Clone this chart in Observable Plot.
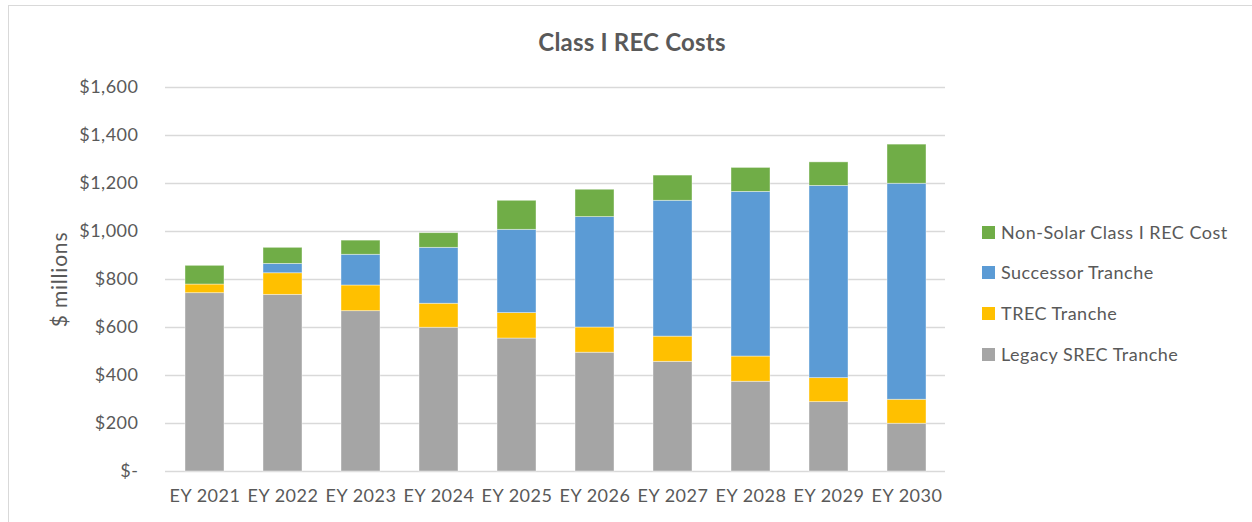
<!DOCTYPE html>
<html>
<head>
<meta charset="utf-8">
<script src="https://cdn.jsdelivr.net/npm/d3@7"></script>
<script src="https://cdn.jsdelivr.net/npm/@observablehq/plot@0.6"></script>
<style>
  html, body { margin: 0; padding: 0; background: #fff; }
  #wrap { position: relative; width: 1252px; height: 522px; overflow: hidden; font-family: Lato, "Open Sans", sans-serif; color: #595959; }
  #frame { position: absolute; left: 7.5px; top: 4.5px; right: 0; bottom: -4px; border-top: 1.5px solid #d9d9d9; border-left: 1.5px solid #d9d9d9; }
  #title { position: absolute; top: 27px; left: 632px; transform: translateX(-50%); font-size: 24px; font-weight: bold; white-space: nowrap; line-height: 30px; letter-spacing: 0.2px; }
  #legend { position: absolute; left: 982px; top: 0; }
  .item { position: absolute; left: 0; white-space: nowrap; font-size: 18px; line-height: 22px; letter-spacing: 0.5px; display: flex; align-items: center; }
  .sw { width: 13px; height: 13px; margin-right: 6px; display: inline-block; }
  #chart { position: absolute; left: 0; top: 0; }
  #chart svg text { letter-spacing: 0.5px; }
  #chart g[aria-label="y-axis label"] text { font-size: 21px; letter-spacing: 0.8px; }
</style>
</head>
<body>
<div id="wrap">
  <div id="frame"></div>
  <div id="chart"></div>
  <div id="title">Class I REC Costs</div>
  <div id="legend"></div>
</div>
<script>
const years = ["EY 2021","EY 2022","EY 2023","EY 2024","EY 2025","EY 2026","EY 2027","EY 2028","EY 2029","EY 2030"];
const legacySREC = [743, 736, 668, 599, 554, 495, 457, 374, 289, 199];
const trecTranche = [36, 90, 107, 100, 106, 105, 105, 105, 100, 100];
const successorTranche = [0, 39, 128, 233, 347, 460, 566, 686, 801, 900];
const nonSolarClassI = [78, 67, 59, 61, 121, 114, 105, 100, 98, 163];
const seriesNames = ["Legacy SREC Tranche", "TREC Tranche", "Successor Tranche", "Non-Solar Class I REC Cost"];
const seriesColors = ["#A5A5A5", "#FFC000", "#5B9BD5", "#70AD47"];
const yTicks = [0, 200, 400, 600, 800, 1000, 1200, 1400, 1600];

const seriesValues = [legacySREC, trecTranche, successorTranche, nonSolarClassI];
const rows = [];
seriesNames.forEach((s, si) => years.forEach((y, i) => rows.push({year: y, series: s, value: seriesValues[si][i]})));

const fmt = d => d === 0 ? "$-" : "$" + d3.format(",")(d);

const plot = Plot.plot({
  width: 1252,
  height: 522,
  marginLeft: 165,
  marginRight: 307,
  marginTop: 87,
  marginBottom: 51,
  style: {fontFamily: "Lato, 'Open Sans', sans-serif", fontSize: "18px", color: "#595959", background: "transparent"},
  x: {domain: years, paddingInner: 0.5, paddingOuter: 0.25},
  y: {domain: [0, 1600]},
  color: {domain: seriesNames, range: seriesColors},
  marks: [
    Plot.gridY(yTicks, {stroke: "#d9d9d9", strokeOpacity: 1, strokeWidth: 1.5}),
    Plot.barY(rows, {x: "year", y: "value", fill: "series", order: seriesNames, stroke: "#fff", strokeOpacity: 0.5, strokeWidth: 0.8}),
    Plot.axisY(yTicks, {tickSize: 0, tickPadding: 27, tickFormat: fmt, label: "$ millions", labelAnchor: "center", labelArrow: "none", labelOffset: 113, fontSize: 18}),
    Plot.axisX({tickSize: 0, tickPadding: 18, label: null, fontSize: 18})
  ]
});
document.getElementById("chart").appendChild(plot);

const legend = document.getElementById("legend");
const legendOrder = [3, 2, 1, 0];
const legendY = [221, 261, 302, 343];
legendOrder.forEach((si, k) => {
  const it = document.createElement("div");
  it.className = "item";
  it.style.top = legendY[k] + "px";
  it.innerHTML = `<span class="sw" style="background:${seriesColors[si]}"></span><span>${seriesNames[si]}</span>`;
  legend.appendChild(it);
});
</script>
</body>
</html>
